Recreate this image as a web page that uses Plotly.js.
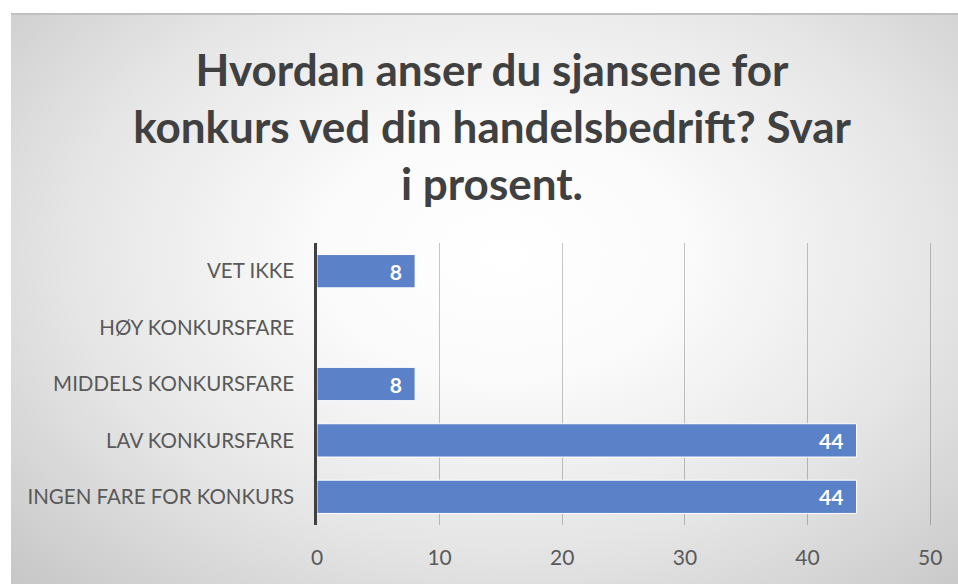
<!DOCTYPE html>
<html>
<head>
<meta charset="utf-8">
<script src="https://cdn.plot.ly/plotly-3.0.1.min.js"></script>
<style>
  html, body { margin: 0; padding: 0; background: #ffffff; }
  #bg {
    position: absolute; left: 11px; top: 13px; width: 947px; height: 571px;
    border-top: 2px solid #c0c0c0; box-sizing: border-box;
    background: radial-gradient(ellipse 75% 85% at 52% 42%, #ffffff 0%, #fbfbfb 25%, #e6e6e6 60%, #c4c4c4 100%);
  }
  #chart { position: absolute; left: 0; top: 0; width: 958px; height: 584px; }
</style>
</head>
<body>
<div id="bg"></div>
<div id="chart"></div>
<script>
// Categories bottom-to-top (Plotly categorical y-axis draws first item at the bottom)
const categories = ["INGEN FARE FOR KONKURS", "LAV KONKURSFARE", "MIDDELS KONKURSFARE", "HØY KONKURSFARE", "VET IKKE"];
const values = [44, 44, 8, null, 8];
const labels = ["44", "44", "8", "", "8"];
const xTicks = [0, 10, 20, 30, 40, 50];
const titleText = "Hvordan anser du sjansene for<br>konkurs ved din handelsbedrift? Svar<br>i prosent.";

const trace = {
  type: "bar",
  orientation: "h",
  y: categories,
  x: values,
  text: labels.map(t => t ? t + "\u00a0\u00a0" : ""),
  textposition: "inside",
  insidetextanchor: "end",
  textfont: { family: "Lato, sans-serif", size: 21, color: "#ffffff", weight: "bold" },
  marker: { color: "#5b81c9", line: { color: "#ffffff", width: 1 } },
  hoverinfo: "none"
};

const layout = {
  width: 958, height: 584,
  paper_bgcolor: "rgba(0,0,0,0)",
  plot_bgcolor: "rgba(0,0,0,0)",
  margin: { l: 317, r: 26, t: 243, b: 59, pad: 0 },
  bargap: 0.41,
  showlegend: false,
  title: {
    text: titleText,
    font: { family: "Lato, sans-serif", size: 44, color: "#404040", weight: "bold" },
    xref: "container", x: 0.5136, xanchor: "center",
    yref: "container", y: 0.853, yanchor: "top"
  },
  xaxis: {
    range: [0, 50.15],
    tickvals: xTicks,
    ticktext: xTicks.map(String),
    showgrid: true, gridcolor: "rgba(0,0,0,0.22)", gridwidth: 1,
    zeroline: false, showline: false,
    ticks: "", ticklen: 0,
    ticklabelstandoff: 18,
    tickfont: { family: "Lato, sans-serif", size: 21, color: "#595959" },
    fixedrange: true
  },
  yaxis: {
    type: "category",
    categoryorder: "array", categoryarray: categories,
    showline: true, linecolor: "#404040", linewidth: 3,
    showgrid: false, zeroline: false,
    ticks: "", ticklen: 0,
    ticksuffix: "   ",
    tickfont: { family: "Lato, sans-serif", size: 20.5, color: "#595959" },
    fixedrange: true
  }
};

Plotly.newPlot("chart", [trace], layout, { displayModeBar: false, staticPlot: true });
</script>
</body>
</html>
